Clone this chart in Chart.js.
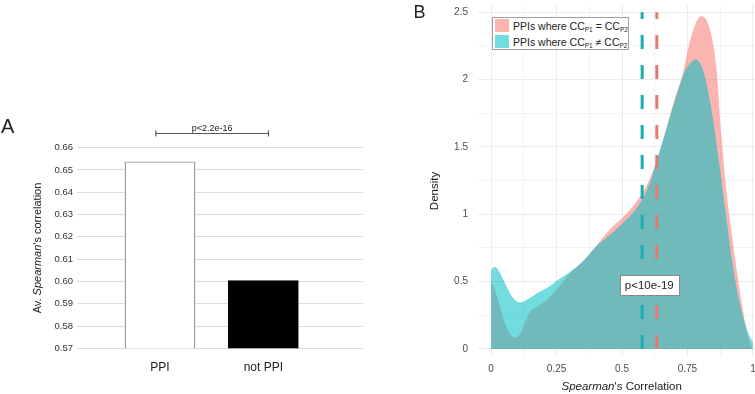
<!DOCTYPE html>
<html>
<head>
<meta charset="utf-8">
<script src="https://cdn.jsdelivr.net/npm/chart.js"></script>
<style>
  body { margin: 0; width: 755px; height: 394px; overflow: hidden; background: #fff; position: relative;
         font-family: "Liberation Sans", Arial, sans-serif; color: #222; }
  canvas { position: absolute; top: 0; }
  #chartA { left: 0; }
  #chartB { left: 380px; }
  .txt { position: absolute; white-space: nowrap; line-height: 1; }
  .panel { font-size: 20px; }
  .rot { transform: translate(-50%, -50%) rotate(-90deg); }
  .ctr { transform: translate(-50%, -50%); }
  #legend { position: absolute; left: 492px; top: 17px; width: 137px; height: 33px; box-sizing: border-box;
            border: 1px solid #a0a0a0; background: #fff; font-size: 10.5px; }
  #legend .sw { position: absolute; left: 2px; width: 14px; height: 13px; }
  #legend .lt { position: absolute; left: 20px; white-space: nowrap; line-height: 1; }
  #legend sub { font-size: 6.5px; vertical-align: -2px; line-height: 0; }
</style>
</head>
<body>
<canvas id="chartA" width="380" height="394"></canvas>
<canvas id="chartB" width="390" height="394"></canvas>

<div class="txt panel" style="left:1px; top:115.5px;">A</div>
<div class="txt panel" style="left:413.5px; top:2.5px; font-size:18px;">B</div>
<div class="txt rot" style="left:36.7px; top:248.3px; font-size:11px;">Av. <i>Spearman</i>'s correlation</div>
<div class="txt rot" style="left:435px; top:191px; font-size:11.5px;">Density</div>
<div class="txt ctr" style="left:621.7px; top:386.5px; font-size:11.5px;"><i>Spearman</i>'s Correlation</div>

<div id="legend">
  <div class="sw" style="top:1px; background:rgba(248,118,109,0.55);"></div>
  <div class="lt" style="top:2.5px;">PPIs where CC<sub>P1</sub> = CC<sub>P2</sub></div>
  <div class="sw" style="top:17px; background:rgba(0,191,196,0.55);"></div>
  <div class="lt" style="top:18.5px;">PPIs where CC<sub>P1</sub> ≠ CC<sub>P2</sub></div>
</div>

<script>
// Panel A: average Spearman correlation
const categories = ['PPI', 'not PPI'];
const avgCorrelation = [0.6537, 0.6004];
const yTicksA = [0.57, 0.58, 0.59, 0.60, 0.61, 0.62, 0.63, 0.64, 0.65, 0.66];
const bracketFrom = 0.96, bracketTo = 2.05, bracketLevel = 0.6665;
const bracketText = 'p<2.2e-16';

// Panel B: density of Spearman's correlation
const eqX = [0, 0.015, 0.03, 0.05, 0.07, 0.09, 0.11, 0.13, 0.15, 0.18, 0.21, 0.25, 0.3, 0.35, 0.4, 0.45,
             0.5, 0.55, 0.6, 0.65, 0.7, 0.73, 0.76, 0.78, 0.8, 0.82, 0.84, 0.86, 0.88, 0.9, 0.92, 0.94,
             0.96, 0.98, 1.0];
const eqDensity = [0.50, 0.44, 0.34, 0.21, 0.12, 0.085, 0.11, 0.20, 0.28, 0.32, 0.36, 0.44, 0.56, 0.65, 0.76, 0.88,
                   0.97, 1.08, 1.24, 1.50, 1.85, 2.03, 2.29, 2.41, 2.47, 2.45, 2.34, 2.10, 1.58, 1.15, 0.84, 0.56,
                   0.31, 0.10, 0.0];
const neX = [0, 0.015, 0.035, 0.055, 0.08, 0.11, 0.14, 0.18, 0.22, 0.26, 0.3, 0.35, 0.4, 0.45, 0.5, 0.55,
             0.6, 0.65, 0.7, 0.74, 0.76, 0.78, 0.81, 0.84, 0.87, 0.9, 0.92, 0.94, 0.96, 0.98, 1.0];
const neDensity = [0.59, 0.61, 0.56, 0.48, 0.39, 0.345, 0.37, 0.42, 0.46, 0.52, 0.57, 0.65, 0.76, 0.84, 0.93, 1.03,
                   1.20, 1.51, 1.83, 2.06, 2.12, 2.15, 2.07, 1.80, 1.40, 0.95, 0.66, 0.43, 0.26, 0.13, 0.05];
const meanNe = 0.577, meanEq = 0.633;
const xTicksB = [0, 0.125, 0.25, 0.375, 0.5, 0.625, 0.75, 0.875, 1];
const yTicksB = [0, 0.25, 0.5, 0.75, 1, 1.25, 1.5, 1.75, 2, 2.25, 2.5];
const pLabelX = 0.604, pLabelY = 0.475, pLabelText = 'p<10e-19';

const FONT = '"Liberation Sans", Arial, sans-serif';

const bracketPlugin = {
  id: 'bracket',
  afterDraw(chart) {
    const { ctx, scales: { x, y } } = chart;
    const x1 = x.getPixelForValue(bracketFrom);
    const x2 = x.getPixelForValue(bracketTo);
    const yy = Math.round(y.getPixelForValue(bracketLevel)) + 0.5;
    ctx.save();
    ctx.strokeStyle = '#555';
    ctx.lineWidth = 1.2;
    ctx.beginPath();
    ctx.moveTo(x1, yy); ctx.lineTo(x2, yy);
    ctx.moveTo(x1, yy - 3); ctx.lineTo(x1, yy + 3);
    ctx.moveTo(x2, yy - 3); ctx.lineTo(x2, yy + 3);
    ctx.stroke();
    ctx.fillStyle = '#222';
    ctx.font = '9px ' + FONT;
    ctx.textAlign = 'center';
    ctx.textBaseline = 'alphabetic';
    ctx.fillText(bracketText, (x1 + x2) / 2, yy - 2.8);
    ctx.restore();
  }
};

const pLabelPlugin = {
  id: 'pLabel',
  afterDatasetsDraw(chart) {
    const { ctx, scales: { x, y } } = chart;
    const cx = x.getPixelForValue(pLabelX);
    const cy = y.getPixelForValue(pLabelY);
    ctx.save();
    ctx.font = '11.5px ' + FONT;
    const w = Math.round(ctx.measureText(pLabelText).width + 10), h = 20;
    const left = Math.round(cx - w / 2) + 0.5, top = Math.round(cy - h / 2) + 0.5;
    ctx.fillStyle = '#fff';
    ctx.fillRect(left, top, w, h);
    ctx.strokeStyle = '#888';
    ctx.lineWidth = 1;
    ctx.strokeRect(left, top, w, h);
    ctx.fillStyle = '#222';
    ctx.textAlign = 'center';
    ctx.textBaseline = 'middle';
    ctx.fillText(pLabelText, cx, cy + 0.5);
    ctx.restore();
  }
};

function fixSize(prop, size) {
  return s => {
    s[prop] = size;
    s.paddingTop = s.paddingBottom = s.paddingLeft = s.paddingRight = 0;
  };
}

new Chart(document.getElementById('chartA'), {
  type: 'bar',
  data: {
    datasets: [{
      data: categories.map((c, i) => ({ x: i + 1, y: avgCorrelation[i] })),
      backgroundColor: ['#ffffff', '#000000'],
      borderColor: ['#8c8c8c', '#000000'],
      borderWidth: 1.2,
      borderSkipped: false,
      barThickness: 70
    }]
  },
  options: {
    responsive: false,
    animation: false,
    layout: { padding: { top: 147.7, right: 17, left: 0, bottom: 0 } },
    plugins: { legend: { display: false }, tooltip: { enabled: false } },
    scales: {
      x: {
        type: 'linear', min: 0.1965, max: 2.965, offset: false,
        afterBuildTicks: s => { s.ticks = categories.map((c, i) => ({ value: i + 1 })); },
        afterFit: fixSize('height', 45.7),
        grid: { display: false, offset: false },
        border: { display: false },
        ticks: { callback: v => categories[v - 1], padding: 4, color: '#222', maxRotation: 0, autoSkip: false,
                 font: { size: 12, family: FONT } }
      },
      y: {
        min: 0.57, max: 0.66,
        afterBuildTicks: s => { s.ticks = yTicksA.map(v => ({ value: v })); },
        afterFit: fixSize('width', 77),
        grid: { color: '#dcdcdc', drawTicks: false, lineWidth: 1 },
        border: { display: false },
        ticks: { callback: v => v.toFixed(2), padding: 4, color: '#333', autoSkip: false,
                 font: { size: 9.5, family: FONT } }
      }
    }
  },
  plugins: [bracketPlugin]
});

const isMajorX = v => Math.abs(v * 4 - Math.round(v * 4)) < 1e-9;
const isMajorY = v => Math.abs(v * 2 - Math.round(v * 2)) < 1e-9;

new Chart(document.getElementById('chartB'), {
  type: 'line',
  data: {
    datasets: [
      {
        data: eqX.map((x, i) => ({ x, y: eqDensity[i] })),
        fill: 'origin',
        backgroundColor: 'rgba(248,118,109,0.55)',
        borderColor: 'rgba(0,0,0,0)',
        borderWidth: 0,
        pointRadius: 0,
        cubicInterpolationMode: 'monotone',
        order: 3
      },
      {
        data: neX.map((x, i) => ({ x, y: neDensity[i] })),
        fill: 'origin',
        backgroundColor: 'rgba(0,191,196,0.55)',
        borderColor: 'rgba(0,0,0,0)',
        borderWidth: 0,
        pointRadius: 0,
        cubicInterpolationMode: 'monotone',
        order: 2
      },
      {
        data: [{ x: meanNe, y: 0 }, { x: meanNe, y: 2.5 }],
        fill: false,
        borderColor: '#1aadb0',
        borderWidth: 3,
        borderDash: [14, 16],
        pointRadius: 0,
        order: 1
      },
      {
        data: [{ x: meanEq, y: 0 }, { x: meanEq, y: 2.5 }],
        fill: false,
        borderColor: '#e07b72',
        borderWidth: 3,
        borderDash: [14, 16],
        pointRadius: 0,
        order: 1
      }
    ]
  },
  options: {
    responsive: false,
    animation: false,
    layout: { padding: { top: 5.6, right: 4, left: 0, bottom: 0 } },
    plugins: { legend: { display: false }, tooltip: { enabled: false } },
    scales: {
      x: {
        type: 'linear', min: -0.05, max: 1.05,
        afterBuildTicks: s => { s.ticks = xTicksB.map(v => ({ value: v })); },
        afterFit: fixSize('height', 38.3),
        grid: { color: c => isMajorX(c.tick.value) ? '#ebebeb' : '#f3f3f3', drawTicks: false },
        border: { display: false },
        ticks: { callback: v => isMajorX(v) ? String(v) : '', padding: 8, color: '#4d4d4d',
                 maxRotation: 0, autoSkip: false, font: { size: 10, family: FONT } }
      },
      y: {
        min: -0.05, max: 2.55,
        afterBuildTicks: s => { s.ticks = yTicksB.map(v => ({ value: v })); },
        afterFit: fixSize('width', 98),
        grid: { color: c => isMajorY(c.tick.value) ? '#ebebeb' : '#f3f3f3', drawTicks: false },
        border: { display: false },
        ticks: { callback: v => isMajorY(v) ? String(v) : '', padding: 10, color: '#4d4d4d',
                 autoSkip: false, font: { size: 10, family: FONT } }
      }
    }
  },
  plugins: [pLabelPlugin]
});
</script>
</body>
</html>
